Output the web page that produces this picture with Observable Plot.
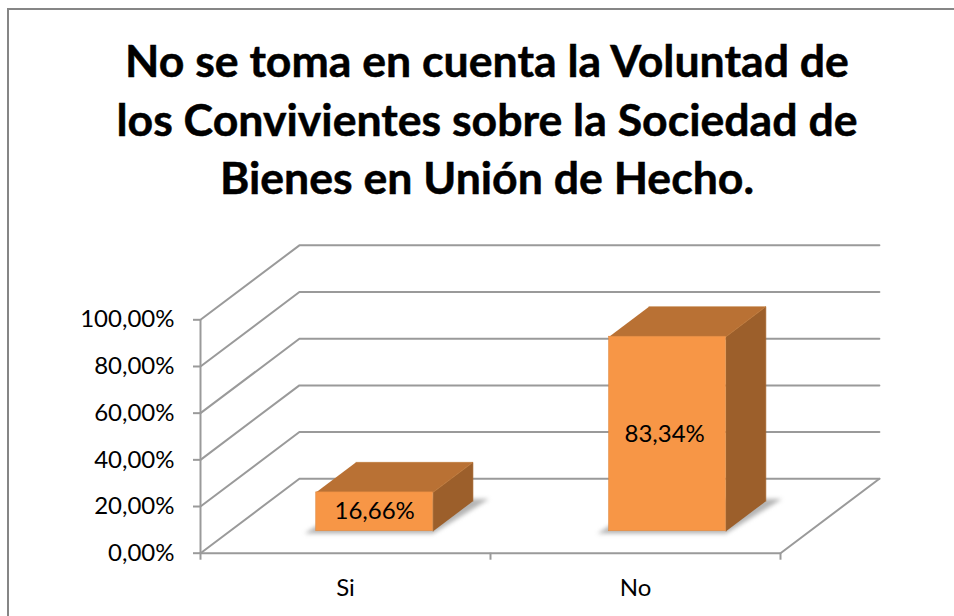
<!DOCTYPE html>
<html>
<head>
<meta charset="utf-8">
<script src="https://cdn.jsdelivr.net/npm/d3@7"></script>
<script src="https://cdn.jsdelivr.net/npm/@observablehq/plot@0.6"></script>
<style>
html,body{margin:0;padding:0;background:#fff;width:954px;height:616px;overflow:hidden}
#frame{position:absolute;left:7px;top:8px;width:960px;height:640px;border:2px solid #868686;box-sizing:border-box;pointer-events:none}
#title{height:225px;box-sizing:border-box;width:974px;padding-top:31px;text-align:center;font:700 44.6px/58.5px Lato,sans-serif;color:#000;-webkit-text-stroke:.5px #000;white-space:nowrap}
svg{display:block}
</style>
</head>
<body>
<div id="frame"></div>
<div id="title">No se toma en cuenta la Voluntad de<br>los Convivientes sobre la Sociedad de<br>Bienes en Unión de Hecho.</div>
<div id="chart"></div>
<script>
const categories = ["Si", "No"];
const values = [16.66, 83.34];
const valueLabels = ["16,66%", "83,34%"];
const yTicks = [0, 20, 40, 60, 80, 100];
const barCentres = [0.5, 1.51];

// oblique projection: depth 0 = front of the floor, depth 1 = back wall
const depthX = 0.341;   // category units per unit of depth
const depthY = 31.9;    // percent units per unit of depth
const px = (pos, depth) => pos + depth * depthX;
const py = (val, depth) => val + depth * depthY;
const barWidth = 0.403, d0 = 0.295, d1 = 0.698;

const poly = (pts, id) => pts.map(([pos, val, depth]) => ({x: px(pos, depth), y: py(val, depth), id}));

const grid = yTicks.flatMap(v => poly([[0, v, 0], [0, v, 1], [2, v, 1]], v));
const floorEdges = poly([[0, 0, 0], [2, 0, 0], [2, 0, 1]], "floor");
const bars = categories.map((c, i) => {
  const l = barCentres[i] - barWidth / 2, r = barCentres[i] + barWidth / 2, v = values[i];
  return {c, i, l, r, v};
});
const tops = bars.flatMap(b => poly([[b.l, b.v, d0], [b.r, b.v, d0], [b.r, b.v, d1], [b.l, b.v, d1]], b.c));
const sides = bars.flatMap(b => poly([[b.r, 0, d0], [b.r, b.v, d0], [b.r, b.v, d1], [b.r, 0, d1]], b.c));
const shadows = bars.flatMap(b => poly([[b.l - 0.04, -1, d0], [b.r, -1, d0], [b.r + 0.045, 0, d1 + 0.03], [b.l, 0, d1 + 0.03]], b.c));
const fronts = bars.map(b => ({x1: px(b.l, d0), x2: px(b.r, d0), y1: py(0, d0), y2: py(b.v, d0)}));
const labels = bars.map((b, i) => ({x: px(i + 0.5, d0), y: py(b.v / 2, d0), t: valueLabels[i]}));

const font = "Lato, sans-serif";
const plot = Plot.plot({
  width: 954,
  height: 391,
  marginLeft: 200,
  marginRight: 174,
  marginTop: 94.3,
  marginBottom: 63.3,
  style: {fontFamily: font, fontSize: "24px", color: "#000", background: "transparent", overflow: "visible"},
  x: {type: "linear", domain: [0, 2]},
  y: {type: "linear", domain: [0, 100]},
  marks: [
    Plot.line(grid, {x: "x", y: "y", z: "id", stroke: "#9a9a9a", strokeWidth: 2, strokeLinejoin: "miter"}),
    Plot.line(floorEdges, {x: "x", y: "y", z: "id", stroke: "#9a9a9a", strokeWidth: 2}),
    Plot.ruleX([0], {y1: 0, y2: 100, stroke: "#9a9a9a", strokeWidth: 2}),
    Plot.axisY({ticks: yTicks, tickSize: 7, tickPadding: 19, stroke: "#9a9a9a", strokeWidth: 2,
      fontSize: 24, fill: "#000", label: null, tickFormat: d => d.toFixed(2).replace(".", ",") + "%"}),
    Plot.axisX({ticks: [0, 1, 2], tickSize: 7, stroke: "#9a9a9a", strokeWidth: 2, label: null, tickFormat: () => ""}),
    Plot.axisX({ticks: [0.5, 1.5], tickSize: 0, tickPadding: 26, fontSize: 24, fill: "#000", label: null,
      tickFormat: d => categories[Math.floor(d)]}),
    Plot.line(shadows, {x: "x", y: "y", z: "id", fill: "#777", fillOpacity: 0.55, stroke: "none", imageFilter: "blur(2px)"}),
    Plot.line(sides, {x: "x", y: "y", z: "id", fill: "#9c5f2b", stroke: "#a8682f", strokeWidth: 0.6}),
    Plot.line(tops, {x: "x", y: "y", z: "id", fill: "#b97134", stroke: "#c07838", strokeWidth: 0.6}),
    Plot.rect(fronts, {x1: "x1", x2: "x2", y1: "y1", y2: "y2", fill: "#f79646", stroke: "#e08a42", strokeWidth: 0.6}),
    Plot.text(labels, {x: "x", y: "y", text: "t", fontSize: 24, fill: "#000"})
  ]
});
document.getElementById("chart").append(plot);
</script>
</body>
</html>
